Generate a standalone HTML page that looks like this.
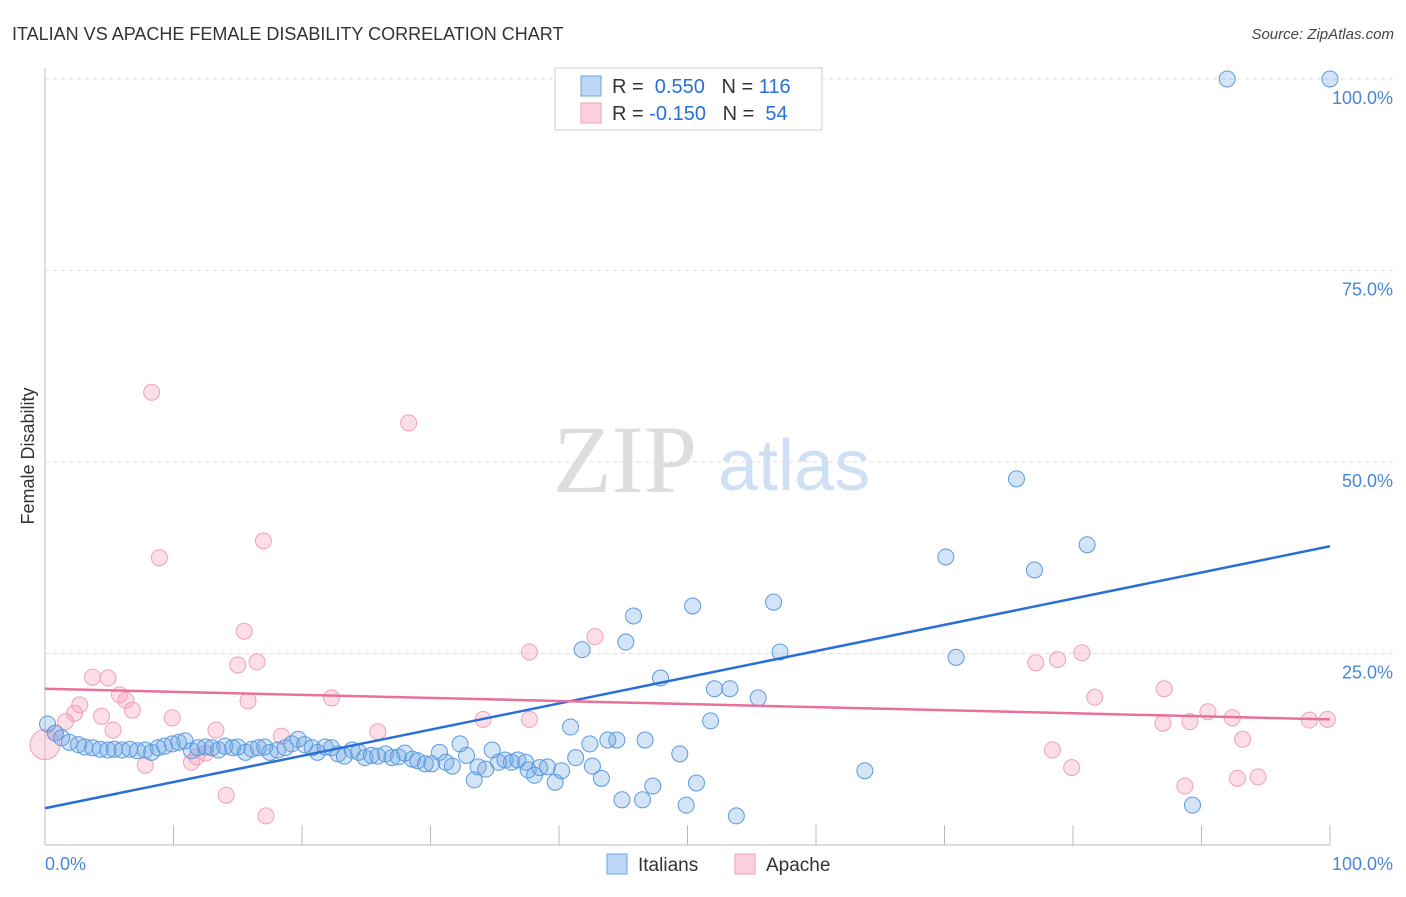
<!DOCTYPE html>
<html><head><meta charset="utf-8"><style>
body{margin:0;background:#fff;font-family:"Liberation Sans",sans-serif;}
svg text{font-family:"Liberation Sans",sans-serif;}
</style></head><body>
<svg id="chart" width="1406" height="892" xmlns="http://www.w3.org/2000/svg">
<text x="12" y="40" font-size="18" fill="#333">ITALIAN VS APACHE FEMALE DISABILITY CORRELATION CHART</text>
<text x="1394" y="39" font-size="15" fill="#444" font-style="italic" text-anchor="end">Source: ZipAtlas.com</text>
<text x="553" y="492" font-size="96" fill="#ddd" font-family="Liberation Serif" style="font-family:'Liberation Serif',serif">ZIP</text>
<text x="718" y="490" font-size="72" fill="#cfe0f5">atlas</text>
<text transform="translate(34,456) rotate(-90)" font-size="18" fill="#333" text-anchor="middle">Female Disability</text>
<g id="grid"></g>
<g id="pts"></g>
<g id="lines"></g>
<g>
<rect x="555" y="68" width="267" height="62" fill="#fff" stroke="#ccc"/>
<rect x="581" y="76" width="20" height="20" fill="#bcd6f5" stroke="#6ea4e4"/>
<rect x="581" y="103" width="20" height="20" fill="#fbd0dc" stroke="#f0a0b8"/>
<text x="612" y="93" font-size="20" fill="#333">R = <tspan fill="#2a6fd6">&#160;0.550</tspan>&#160;&#160;&#160;N = <tspan fill="#2a6fd6">116</tspan></text>
<text x="612" y="120" font-size="20" fill="#333">R = <tspan fill="#2a6fd6">-0.150</tspan>&#160;&#160;&#160;N = <tspan fill="#2a6fd6">&#160;54</tspan></text>
</g>
<g>
<rect x="607" y="854" width="20" height="20" fill="#bcd6f5" stroke="#6ea4e4"/>
<text x="638" y="871" font-size="19" fill="#333">Italians</text>
<rect x="735" y="854" width="20" height="20" fill="#fbd0dc" stroke="#f0a0b8"/>
<text x="766" y="871" font-size="19" fill="#333">Apache</text>
</g>
</svg>
<script>
const yTicks=[25,50,75,100];
const yTickLabels=["25.0%","50.0%","75.0%","100.0%"];
const xTicks=[0,10,20,30,40,50,60,70,80,90,100];
const italiansX=[0.2,0.8,1.3,1.9,2.6,3.1,3.7,4.3,4.9,5.4,6.0,6.6,7.2,7.8,8.3,8.8,9.3,9.9,10.4,10.9,11.4,11.9,12.5,13.0,13.5,14.0,14.6,15.0,15.6,16.1,16.6,17.1,17.5,18.1,18.7,19.2,19.7,20.2,20.8,21.2,21.8,22.3,22.8,23.3,23.9,24.4,24.9,25.4,25.9,26.5,27.0,27.5,28.0,28.6,29.0,29.6,30.1,30.7,31.2,31.7,32.3,32.8,33.4,33.7,34.3,34.8,35.3,35.8,36.3,36.8,37.4,37.6,38.1,38.5,39.1,39.7,40.2,40.9,41.3,41.8,42.4,42.6,43.3,43.8,44.5,44.9,45.2,45.8,46.7,46.5,47.3,47.9,49.4,49.9,50.4,50.7,51.8,52.1,53.3,53.8,55.5,56.7,57.2,63.8,70.1,70.9,75.6,77.0,81.1,89.3,92.0,100];
const italiansY=[15.8,14.6,14.0,13.4,13.1,12.8,12.7,12.5,12.4,12.5,12.4,12.5,12.3,12.4,12.1,12.7,12.9,13.2,13.4,13.6,12.3,12.7,12.8,12.7,12.4,12.9,12.7,12.8,12.1,12.5,12.7,12.8,12.1,12.4,12.7,13.2,13.8,13.1,12.7,12.1,12.8,12.7,11.9,11.6,12.4,12.1,11.4,11.7,11.6,11.9,11.4,11.5,12.0,11.2,11.0,10.6,10.6,12.1,10.8,10.3,13.2,11.7,8.5,10.2,9.9,12.4,10.8,11.1,10.8,11.1,10.8,9.8,9.1,10.1,10.2,8.2,9.7,15.4,11.4,25.5,13.2,10.3,8.7,13.7,13.7,5.9,26.5,29.9,13.7,5.9,7.7,21.8,11.9,5.2,31.2,8.1,16.2,20.4,20.4,3.8,19.2,31.7,25.2,9.7,37.6,24.5,47.8,35.9,39.2,5.2,100,100];
const apacheX=[0,0.8,1.6,2.3,2.7,3.7,4.4,4.9,5.3,5.8,6.3,6.8,7.8,8.3,8.9,9.9,11.4,11.8,12.5,13.3,14.1,15.0,15.5,15.8,16.5,17.0,17.2,18.4,22.3,25.9,28.3,34.1,37.7,37.7,42.8,77.1,78.4,78.8,79.9,80.7,81.7,87.0,87.1,88.7,89.1,90.5,92.4,92.8,93.2,94.4,98.4,99.8];
const apacheY=[13.1,14.6,16.1,17.2,18.3,21.9,16.8,21.8,15.0,19.6,18.9,17.6,10.4,59.1,37.5,16.6,10.8,11.5,12.0,15.0,6.5,23.5,27.9,18.8,23.9,39.7,3.8,14.2,19.2,14.8,55.1,16.4,16.4,25.2,27.2,23.8,12.4,24.2,10.1,25.1,19.3,15.9,20.4,7.7,16.1,17.4,16.6,8.7,13.8,8.9,16.3,16.4];
const italiansTrend=[4.8,39.0];
const apacheTrend=[20.4,16.4];
const NS="http://www.w3.org/2000/svg";
const X=v=>45+v*12.85, Y=v=>845-v*7.66;
function mk(tag,attrs,parent){const e=document.createElementNS(NS,tag);for(const k in attrs)e.setAttribute(k,attrs[k]);parent.appendChild(e);return e;}
const grid=document.getElementById('grid');
const ax=mk('line',{x1:45,y1:68,x2:45,y2:845,stroke:'#bbb'},grid);


const bx=mk('line',{x1:45,y1:845,x2:1330,y2:845,stroke:'#bbb'},grid);


yTicks.forEach((t,i)=>{
  const g=mk('line',{x1:45,y1:Y(t),x2:1395,y2:Y(t),stroke:'#ddd','stroke-dasharray':'4,4'},grid);
  
  
  const l=mk('text',{x:1393,y:Y(t)+25,'font-size':18,fill:'#4a86d8','text-anchor':'end'},grid);
  l.textContent=yTickLabels[i];
  
  
});
xTicks.forEach(t=>{
  if(t===0)return;
  const k=mk('line',{x1:X(t),y1:825,x2:X(t),y2:845,stroke:'#bbb'},grid);
  
  
});
const xl0=mk('text',{x:45,y:870,'font-size':18,fill:'#4a86d8'},grid);xl0.textContent='0.0%';


const xl1=mk('text',{x:1393,y:870,'font-size':18,fill:'#4a86d8','text-anchor':'end'},grid);xl1.textContent='100.0%';


const pts=document.getElementById('pts');
apacheX.forEach((x,i)=>{
  const c=mk('circle',{cx:X(x),cy:Y(apacheY[i]),r:i===0?15:8,fill:'rgba(245,160,185,0.35)',stroke:'#f0a0b8','stroke-width':1},pts);
  
  
});
italiansX.forEach((x,i)=>{
  const c=mk('circle',{cx:X(x),cy:Y(italiansY[i]),r:8,fill:'rgba(110,165,230,0.3)',stroke:'#5b9ae0','stroke-width':1},pts);
  
  
});
const lines=document.getElementById('lines');
const tb=mk('line',{x1:X(0),y1:Y(italiansTrend[0]),x2:X(100),y2:Y(italiansTrend[1]),stroke:'#2a6fd6','stroke-width':2.5},lines);


const tp=mk('line',{x1:X(0),y1:Y(apacheTrend[0]),x2:X(100),y2:Y(apacheTrend[1]),stroke:'#e8709a','stroke-width':2.5},lines);


</script>
</body></html>
